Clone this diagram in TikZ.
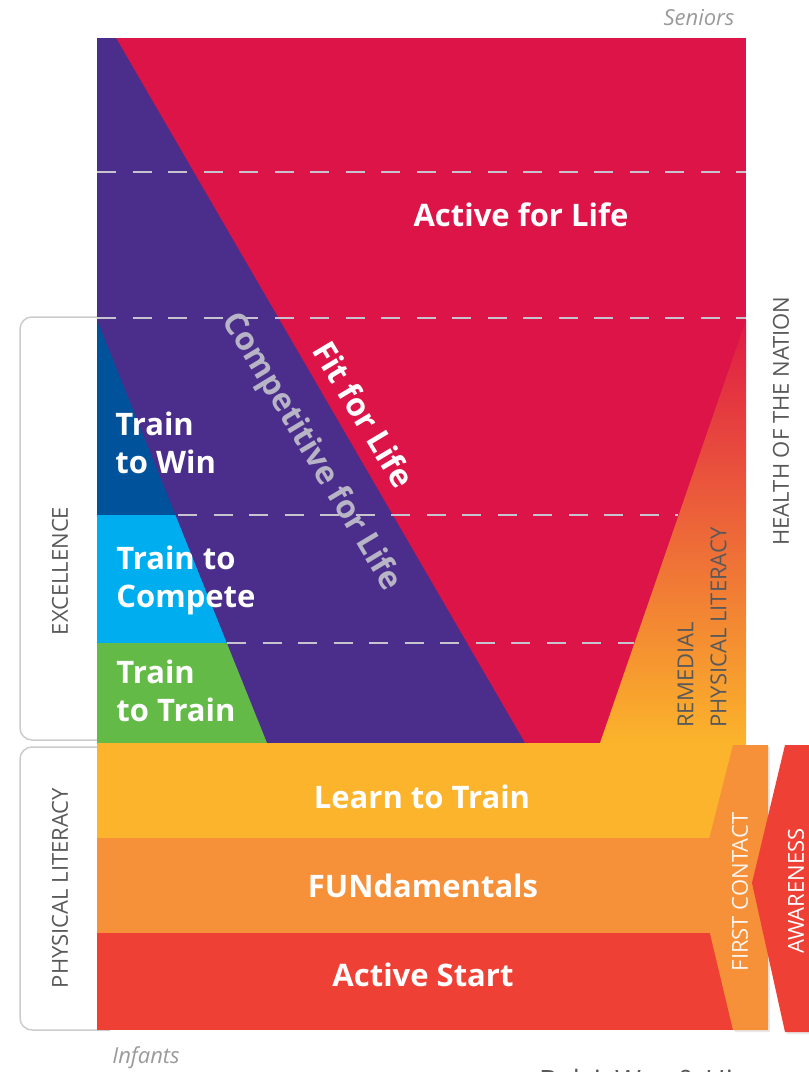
\documentclass[tikz,border=0pt]{standalone}
\usepackage{fontspec}
\setmainfont{Open Sans}
\usetikzlibrary{shadows}

\definecolor{lifered}{HTML}{DC1448}
\definecolor{comppurple}{HTML}{4B2D8C}
\definecolor{winblue}{HTML}{00539B}
\definecolor{competecyan}{HTML}{00AEEF}
\definecolor{traingreen}{HTML}{63BA47}
\definecolor{learnyellow}{HTML}{FBB42B}
\definecolor{fundorange}{HTML}{F6913A}
\definecolor{startred}{HTML}{EF4036}
\definecolor{labelgray}{HTML}{58595B}
\definecolor{dashgray}{HTML}{C7C4D0}
\definecolor{bracketgray}{HTML}{CCCCCC}
\definecolor{agegray}{HTML}{9A9A9A}
\definecolor{lifegray}{HTML}{B7B4C6}

\begin{document}
\begin{tikzpicture}[x=0.5pt,y=-0.5pt,
  stage/.style={text=white, inner sep=0pt, font=\bfseries\fontsize{15.5}{19}\selectfont},
  sport/.style={stage, align=left, anchor=west},
  lifeline/.style={inner sep=0pt, rotate=-59, font=\bfseries\fontsize{16}{19}\selectfont},
  side/.style={text=labelgray, inner sep=0pt, rotate=90, font=\fontsize{11}{16.5}\selectfont},
  tierline/.style={draw=dashgray, line width=1pt, dash pattern=on 9.5pt off 8.25pt},
  bracket/.style={draw=bracketgray, line width=0.75pt, rounded corners=6pt},
  agelabel/.style={text=agegray, inner sep=0pt, font=\itshape\fontsize{11}{13}\selectfont},
  chevron/.style={drop shadow={opacity=0.18, shadow xshift=1pt, shadow yshift=-1pt}}]
  \useasboundingbox (0,0) rectangle (809,1072);
  \clip (0,0) rectangle (809,1072);

  \draw[bracket] (110,317) -- (20,317) -- (20,740) -- (110,740);
  \draw[bracket] (110,747) -- (20,747) -- (20,1030) -- (110,1030);

  \fill[lifered] (97,38) rectangle (746,743);
  \fill[comppurple] (97,38) -- (116,38) -- (525,743) -- (97,743) -- cycle;
  \fill[winblue] (97,320) -- (175.4,515) -- (97,515) -- cycle;
  \fill[competecyan] (97,515) -- (175.4,515) -- (226.8,643) -- (97,643) -- cycle;
  \fill[traingreen] (97,643) -- (226.8,643) -- (267,743) -- (97,743) -- cycle;
  \shade[top color=lifered!85!startred, middle color=startred!70!fundorange, bottom color=learnyellow]
    (746,320) -- (746,743) -- (600,743) -- cycle;

  \draw[tierline] (97,172) -- (746,172);
  \draw[tierline] (97,318) -- (746,318);
  \draw[tierline] (178,515) -- (678,515);
  \draw[tierline] (227,643) -- (634,643);

  \fill[learnyellow] (97,743) rectangle (746,838);
  \fill[fundorange] (97,838) rectangle (746,933);
  \fill[startred] (97,933) rectangle (746,1030);

  \fill[fundorange, chevron] (733,745) -- (768,745) -- (768,1030) -- (733,1030) -- (698,883) -- cycle;
  \fill[startred, chevron] (785,745) -- (830,745) -- (830,1032) -- (785,1032) -- (752,883) -- cycle;

  \node[stage] (activelife) at (521,215) {Active for Life};
  \node[lifeline, text=white] (fitlife) at (364,414) {Fit for Life};
  \node[lifeline, text=lifegray] (complife) at (311,452) {Competitive for Life};

  \node[sport] (trainwin) at (115,443) {Train\\to Win};
  \node[sport] (traincompete) at (116,580) {Train to\\Compete};
  \node[sport] (traintrain) at (116,691) {Train\\to Train};

  \node[stage] (learntrain) at (422,797) {Learn to Train};
  \node[stage] (fundamentals) at (423,886) {FUNdamentals};
  \node[stage] (activestart) at (423,975) {Active Start};

  \node[side] (excellence) at (60,571) {EXCELLENCE};
  \node[side] (physlit) at (60,888) {PHYSICAL LITERACY};
  \node[side] (health) at (781,421) {HEALTH OF THE NATION};
  \node[side, align=left, anchor=south west] (remedial) at (727,728) {REMEDIAL\\PHYSICAL LITERACY};
  \node[side, text=white!90!fundorange] (firstcontact) at (740,892) {FIRST CONTACT};
  \node[side, text=white] (awareness) at (796,891) {AWARENESS};

  \node[agelabel] (seniors) at (699,18) {Seniors};
  \node[agelabel] (infants) at (146,1058) {Infants};
  \node[text=labelgray, inner sep=0pt, anchor=north, font=\fontsize{14}{16}\selectfont] (source) at (658,1069) {Balyi, Way \& Higgs};
\end{tikzpicture}
\end{document}
